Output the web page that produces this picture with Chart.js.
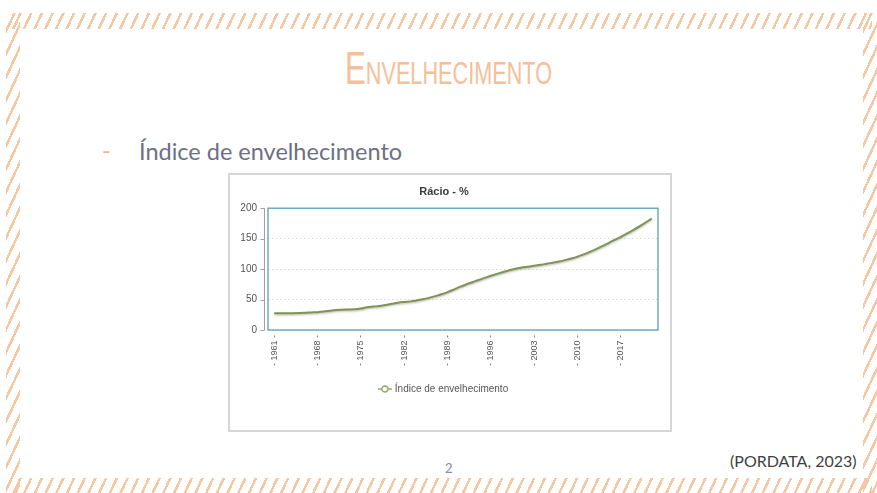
<!DOCTYPE html>
<html>
<head>
<meta charset="utf-8">
<script src="https://cdn.jsdelivr.net/npm/chart.js@4.4.1/dist/chart.umd.min.js"></script>
<style>
  html, body { margin:0; padding:0; background:#ffffff; }
  body { width:877px; height:493px; position:relative; overflow:hidden; font-family:"Liberation Sans", Arial, sans-serif; }
  .hatch { position:absolute; background: repeating-linear-gradient(115deg, rgba(0,0,0,0) 0px, rgba(0,0,0,0) 6.5px, #f5c8a4 6.5px, #f5c8a4 9px, rgba(0,0,0,0) 9px, rgba(0,0,0,0) 9.7px); }
  #title { position:absolute; left:345px; top:45px; font-family:"Liberation Sans Narrow","Liberation Sans",sans-serif; font-variant:small-caps; font-size:46px; color:#f4c09a; white-space:nowrap; transform-origin:0 0; line-height:1; }
  #bullet { position:absolute; left:102px; top:139px; font-family:Lato, sans-serif; font-size:23.5px; color:#f3b58a; line-height:1; }
  #heading { position:absolute; left:139px; top:140px; font-family:Lato, sans-serif; font-size:23.5px; color:#6d7084; line-height:1; white-space:nowrap; }
  #box { position:absolute; left:228px; top:173px; width:444px; height:259px; border:2px solid #d6d6d6; box-sizing:border-box; background:#fff; }
  #chart { position:absolute; left:0; top:0; }
  #page { position:absolute; left:445px; top:462px; font-family:Lato, sans-serif; font-size:13px; color:#878ba3; line-height:1; }
  #src { position:absolute; left:730px; top:453px; font-family:Lato, sans-serif; font-size:16px; color:#404040; line-height:1; white-space:nowrap; }
</style>
</head>
<body>
<div class="hatch" style="left:12px; top:13px; width:860px; height:16px;"></div>
<div class="hatch" style="left:12px; top:478px; width:860px; height:15px;"></div>
<div class="hatch" style="left:6px; top:13px; width:14px; height:480px;"></div>
<div class="hatch" style="left:863px; top:13px; width:14px; height:480px;"></div>

<div id="title">Envelhecimento</div>
<div id="bullet">-</div>
<div id="heading">Índice de envelhecimento</div>
<div id="box"><canvas id="chart" width="440" height="255"></canvas></div>
<div id="page">2</div>
<div id="src">(PORDATA, 2023)</div>

<script>
// ---- data ----
const years = [1961,1962,1963,1964,1965,1966,1967,1968,1969,1970,
               1971,1972,1973,1974,1975,1976,1977,1978,1979,1980,
               1981,1982,1983,1984,1985,1986,1987,1988,1989,1990,
               1991,1992,1993,1994,1995,1996,1997,1998,1999,2000,
               2001,2002,2003,2004,2005,2006,2007,2008,2009,2010,
               2011,2012,2013,2014,2015,2016,2017,2018,2019,2020,
               2021,2022];
const ageingIndex = [27.3,27.4,27.5,27.6,27.9,28.3,28.8,29.3,30.2,31.6,
                     33.0,33.4,33.6,34.0,35.2,37.2,38.4,39.5,41.2,43.0,
                     44.8,46.0,47.0,48.5,50.4,52.8,55.6,58.6,62.2,66.4,
                     70.8,74.8,78.4,82.0,85.6,89.0,92.2,95.3,98.2,100.6,
                     102.6,104.0,105.4,107.0,108.8,110.6,112.5,114.7,117.3,120.4,
                     124.2,128.4,132.8,137.6,142.8,148.0,153.0,158.5,164.0,170.0,
                     176.5,183.0];
const xTickYears = [1961,1968,1975,1982,1989,1996,2003,2010,2017];
const yTickValues = [0,50,100,150,200];
const seriesName = 'Índice de envelhecimento';
const chartTitle = 'Rácio - %';

// fit slide title width
(function(){
  const t = document.getElementById('title');
  const w = t.getBoundingClientRect().width;
  t.style.transform = 'scaleX(' + (207 / w) + ')';
})();

// legend marker: line with hollow circle
const marker = document.createElement('canvas');
marker.width = 14; marker.height = 10;
(function(){
  const c = marker.getContext('2d');
  c.strokeStyle = '#8aa05a'; c.lineWidth = 1.3;
  c.beginPath(); c.moveTo(0,5); c.lineTo(14,5); c.stroke();
  c.fillStyle = '#fff';
  c.beginPath(); c.arc(7,5,3,0,Math.PI*2); c.fill(); c.stroke();
})();

const frame = {
  id: 'frame',
  beforeDatasetsDraw(chart) {
    const {ctx, chartArea:a, scales} = chart;
    ctx.save();
    ctx.strokeStyle = '#a0a0a0'; ctx.lineWidth = 1;
    const ax = Math.round(a.left - 4) + 0.5;
    ctx.beginPath(); ctx.moveTo(ax, a.top); ctx.lineTo(ax, a.bottom); ctx.stroke();
    scales.y.ticks.forEach((t, i) => {
      const yy = Math.round(scales.y.getPixelForTick(i)) + 0.5;
      ctx.beginPath(); ctx.moveTo(ax - 4, yy); ctx.lineTo(ax, yy); ctx.stroke();
    });
    ctx.restore();
  },
  afterDatasetsDraw(chart) {
    const {ctx, chartArea:a} = chart;
    ctx.save();
    ctx.strokeStyle = '#5a9ec0'; ctx.lineWidth = 1.3;
    ctx.strokeRect(a.left, a.top, a.right - a.left, a.bottom - a.top);
    ctx.restore();
  }
};

const shadow = {
  id: 'shadow',
  beforeDatasetDraw(chart) {
    const ctx = chart.ctx; ctx.save();
    ctx.shadowColor = 'rgba(0,0,0,0.25)'; ctx.shadowBlur = 2; ctx.shadowOffsetY = 1.2;
  },
  afterDatasetDraw(chart) { chart.ctx.restore(); }
};

new Chart(document.getElementById('chart'), {
  type: 'line',
  data: {
    datasets: [{
      label: seriesName,
      data: years.map((y, i) => ({x: y, y: ageingIndex[i]})),
      borderColor: '#7f9353',
      backgroundColor: '#ffffff',
      borderWidth: 2,
      pointRadius: 0,
      tension: 0.4,
      cubicInterpolationMode: 'monotone',
      fill: false
    }]
  },
  options: {
    responsive: false,
    animation: false,
    devicePixelRatio: 1,
    layout: { padding: { left: 0, right: 12, top: 0, bottom: 26 } },
    plugins: {
      title: { display: true, text: chartTitle, color: '#3a3a3a',
               font: { family: '"Liberation Sans", Arial, sans-serif', size: 11, weight: 'bold' },
               padding: { top: 10, bottom: 10 } },
      legend: { display: true, position: 'bottom',
                labels: { usePointStyle: true, pointStyle: marker, color: '#555',
                          font: { family: '"Liberation Sans", Arial, sans-serif', size: 10 }, padding: 10 } },
      tooltip: { enabled: false }
    },
    scales: {
      x: {
        type: 'linear', min: 1960, max: 2023,
        afterBuildTicks: (s) => { s.ticks = xTickYears.map(v => ({value: v})); },
        afterFit: (s) => { s.height = 44; },
        grid: { display: false, drawTicks: false },
        border: { display: false },
        ticks: { autoSkip: false, maxRotation: 90, minRotation: 90, padding: 5, color: '#555',
                 font: { family: '"Liberation Sans", Arial, sans-serif', size: 9 },
                 callback: (v) => '- ' + v + ' -' }
      },
      y: {
        min: 0, max: 200,
        afterBuildTicks: (s) => { s.ticks = yTickValues.map(v => ({value: v})); },
        afterFit: (s) => { s.width = 38; },
        grid: { drawTicks: false, color: '#d9d9d9', lineWidth: 1 },
        border: { display: false, dash: [1.5, 2.5] },
        ticks: { padding: 11, color: '#555',
                 font: { family: '"Liberation Sans", Arial, sans-serif', size: 10 } }
      }
    }
  },
  plugins: [frame, shadow]
});
</script>
</body>
</html>
